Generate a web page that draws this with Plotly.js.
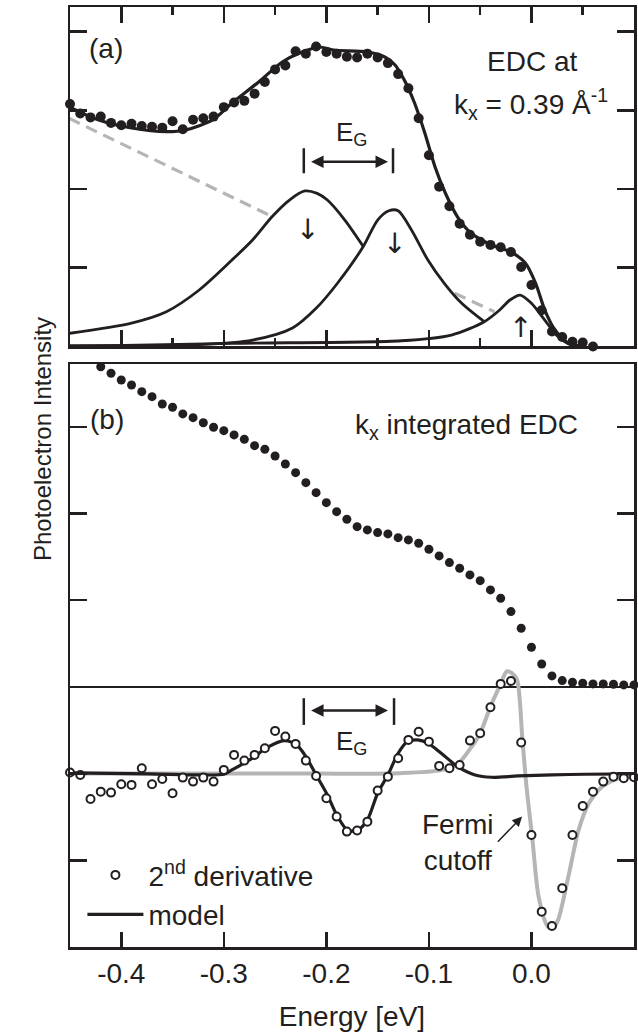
<!DOCTYPE html>
<html>
<head>
<meta charset="utf-8">
<script src="https://cdn.plot.ly/plotly-3.0.1.min.js"></script>
<style>
html,body{margin:0;padding:0;background:#fff;}
#chart{width:638px;height:1034px;}
</style>
</head>
<body>
<div id="chart"></div>
<script>
// ---------- Panel (a): EDC at kx = 0.39 1/Å ----------
const energyA = [-0.45,-0.44,-0.43,-0.42,-0.41,-0.40,-0.39,-0.38,-0.37,-0.36,-0.35,-0.34,-0.33,-0.32,-0.31,-0.30,-0.29,-0.28,-0.27,-0.26,-0.25,-0.24,-0.23,-0.22,-0.21,-0.20,-0.19,-0.18,-0.17,-0.16,-0.15,-0.14,-0.13,-0.12,-0.11,-0.10,-0.09,-0.08,-0.07,-0.06,-0.05,-0.04,-0.03,-0.02,-0.01,0.00,0.01,0.02,0.03,0.04,0.05,0.06];
const edcA = [3.08,2.96,2.91,2.92,2.84,2.81,2.83,2.80,2.79,2.78,2.86,2.76,2.88,2.90,2.92,3.04,3.10,3.12,3.21,3.36,3.52,3.57,3.75,3.72,3.81,3.74,3.72,3.68,3.67,3.72,3.67,3.60,3.46,3.28,2.90,2.43,2.03,1.78,1.56,1.42,1.33,1.29,1.26,1.20,1.01,0.78,0.46,0.19,0.12,0.06,0.05,0.00];

const fitAx = [-0.451,-0.422,-0.390,-0.356,-0.337,-0.311,-0.292,-0.266,-0.243,-0.226,-0.207,-0.193,-0.160,-0.143,-0.133,-0.124,-0.114,-0.104,-0.094,-0.084,-0.072,-0.059,-0.039,-0.020,-0.006,0.004,0.013,0.023,0.036,0.052];
const fitAy = [3.046,2.877,2.775,2.728,2.750,2.877,3.093,3.360,3.614,3.728,3.804,3.766,3.741,3.678,3.576,3.385,3.093,2.712,2.280,1.949,1.644,1.441,1.289,1.200,1.060,0.805,0.462,0.208,0.043,0.0];

const bgAx = [-0.451,-0.256,null,-0.075,-0.036];
const bgAy = [2.898,1.670,null,0.675,0.441];

const peak1x = [-0.451,-0.390,-0.356,-0.324,-0.292,-0.272,-0.253,-0.236,-0.221,-0.209,-0.199,-0.182,-0.164];
const peak1y = [0.166,0.297,0.441,0.717,1.098,1.352,1.648,1.860,1.975,1.945,1.860,1.606,1.270];

const peak2x = [-0.451,-0.324,-0.272,-0.233,-0.210,-0.189,-0.164,-0.150,-0.139,-0.130,-0.117,-0.101,-0.085,-0.068,-0.046];
const peak2y = [0.011,0.024,0.081,0.234,0.484,0.806,1.270,1.606,1.724,1.724,1.479,1.098,0.802,0.548,0.314];

const peak3x = [-0.451,-0.292,-0.127,-0.078,-0.046,-0.031,-0.021,-0.011,0.000,0.013,0.026,0.039,0.052];
const peak3y = [0.0,0.040,0.072,0.145,0.314,0.463,0.590,0.653,0.548,0.335,0.123,0.018,0.0];

// ---------- Panel (b): kx integrated EDC and 2nd derivative ----------
const energyB = [-0.42,-0.41,-0.40,-0.39,-0.38,-0.37,-0.36,-0.35,-0.34,-0.33,-0.32,-0.31,-0.30,-0.29,-0.28,-0.27,-0.26,-0.25,-0.24,-0.23,-0.22,-0.21,-0.20,-0.19,-0.18,-0.17,-0.16,-0.15,-0.14,-0.13,-0.12,-0.11,-0.10,-0.09,-0.08,-0.07,-0.06,-0.05,-0.04,-0.03,-0.02,-0.01,0.00,0.01,0.02,0.03,0.04,0.05,0.06,0.07,0.08,0.09,0.10];
const edcB = [3.694,3.618,3.541,3.483,3.406,3.348,3.264,3.226,3.149,3.106,3.048,2.995,2.956,2.907,2.857,2.783,2.742,2.664,2.572,2.472,2.356,2.241,2.126,2.022,1.934,1.849,1.811,1.780,1.765,1.722,1.696,1.657,1.588,1.511,1.434,1.369,1.292,1.226,1.119,1.023,0.869,0.677,0.458,0.265,0.127,0.073,0.054,0.043,0.035,0.035,0.031,0.023,0.023];

const energyD = [-0.45,-0.44,-0.43,-0.42,-0.41,-0.40,-0.39,-0.38,-0.37,-0.36,-0.35,-0.34,-0.33,-0.32,-0.31,-0.30,-0.29,-0.28,-0.27,-0.26,-0.25,-0.24,-0.23,-0.22,-0.21,-0.20,-0.19,-0.18,-0.17,-0.16,-0.15,-0.14,-0.13,-0.12,-0.11,-0.10,-0.09,-0.08,-0.07,-0.06,-0.05,-0.04,-0.03,-0.02,-0.01,0.00,0.01,0.02,0.03,0.04,0.05,0.06,0.07,0.08,0.09,0.10];
const deriv2 = [-0.988,-1.015,-1.292,-1.208,-1.219,-1.122,-1.130,-0.938,-1.122,-1.061,-1.226,-1.046,-1.092,-1.046,-1.092,-0.957,-0.784,-0.850,-0.784,-0.707,-0.507,-0.573,-0.657,-0.850,-1.027,-1.284,-1.496,-1.669,-1.657,-1.554,-1.196,-1.035,-0.822,-0.611,-0.516,-0.631,-0.911,-0.938,-0.900,-0.619,-0.534,-0.234,0.035,0.069,-0.642,-1.707,-2.592,-2.757,-2.322,-1.707,-1.373,-1.208,-1.092,-1.035,-1.053,-1.042];

const modelx = [-0.450,-0.373,-0.324,-0.300,-0.292,-0.272,-0.259,-0.241,-0.229,-0.220,-0.210,-0.199,-0.189,-0.179,-0.169,-0.160,-0.150,-0.140,-0.130,-0.121,-0.111,-0.101,-0.088,-0.072,-0.055,-0.039,-0.013,0.020,0.052,0.100];
const modely = [-0.992,-1.003,-1.015,-1.007,-0.957,-0.822,-0.707,-0.619,-0.669,-0.804,-1.015,-1.246,-1.496,-1.657,-1.649,-1.534,-1.226,-1.015,-0.765,-0.631,-0.611,-0.649,-0.765,-0.919,-1.015,-1.042,-1.027,-1.015,-1.007,-1.003];

const fermix = [-0.450,-0.300,-0.209,-0.128,-0.088,-0.072,-0.059,-0.050,-0.040,-0.031,-0.024,-0.019,-0.014,-0.009,-0.005,0.001,0.007,0.016,0.021,0.026,0.036,0.046,0.056,0.069,0.085,0.100];
const fermiy = [-0.998,-0.998,-1.000,-0.995,-0.960,-0.890,-0.700,-0.534,-0.227,0.010,0.180,0.160,0.081,-0.577,-1.130,-1.765,-2.419,-2.765,-2.783,-2.687,-2.188,-1.649,-1.341,-1.150,-1.053,-1.034];

const xTickVals = [-0.4,-0.3,-0.2,-0.1,0.0];
const xTickText = ['-0.4','-0.3','-0.2','-0.1','0.0'];

const INK = '#231f20';
const GRAY = '#b5b5b5';
const FONT = 'Liberation Sans, Arial, Helvetica, sans-serif';
const ARROWFONT = 'DejaVu Sans, Liberation Sans, sans-serif';

const traces = [
  {x: bgAx, y: bgAy, xaxis:'x2', yaxis:'y2', mode:'lines', line:{color:GRAY, width:3.2, dash:'12px,7px'}, showlegend:false, hoverinfo:'skip', connectgaps:false},
  {x: peak1x, y: peak1y, xaxis:'x2', yaxis:'y2', mode:'lines', line:{color:INK, width:2.8, shape:'spline', smoothing:0.8}, showlegend:false},
  {x: peak2x, y: peak2y, xaxis:'x2', yaxis:'y2', mode:'lines', line:{color:INK, width:2.8, shape:'spline', smoothing:0.8}, showlegend:false},
  {x: peak3x, y: peak3y, xaxis:'x2', yaxis:'y2', mode:'lines', line:{color:INK, width:2.8, shape:'spline', smoothing:0.8}, showlegend:false},
  {x: fitAx, y: fitAy, xaxis:'x2', yaxis:'y2', mode:'lines', line:{color:INK, width:3.2, shape:'spline', smoothing:0.8}, showlegend:false},
  {x: energyA, y: edcA, xaxis:'x2', yaxis:'y2', mode:'markers', marker:{color:INK, size:10}, cliponaxis:false, showlegend:false},

  {x: fermix, y: fermiy, xaxis:'x', yaxis:'y', mode:'lines', line:{color:GRAY, width:4, shape:'spline', smoothing:0.8}, showlegend:false},
  {x: modelx, y: modely, xaxis:'x', yaxis:'y', mode:'lines', name:'model', legendrank:2, line:{color:INK, width:3.2, shape:'spline', smoothing:0.8}},
  {x: energyD, y: deriv2, xaxis:'x', yaxis:'y', mode:'markers', name:'2<sup>nd</sup> derivative', legendrank:1, cliponaxis:false,
   marker:{color:'#ffffff', size:8, line:{color:INK, width:2}}},
  {x: energyB, y: edcB, xaxis:'x', yaxis:'y', mode:'markers', marker:{color:INK, size:9}, cliponaxis:false, showlegend:false}
];

const axisCommon = {
  showgrid:false, zeroline:false, showline:true, linecolor:INK, linewidth:2.5,
  ticks:'inside', tickcolor:INK, tickwidth:2.5
};

const layout = {
  width:638, height:1034,
  margin:{l:70, r:4, t:7, b:87},
  paper_bgcolor:'#fff', plot_bgcolor:'#fff',
  font:{family:FONT, color:INK, size:28},
  showlegend:true,
  legend:{x:0.022, y:0.103, xanchor:'left', yanchor:'top', bgcolor:'rgba(0,0,0,0)', font:{size:28, color:INK}, itemwidth:56, tracegroupgap:0},
  xaxis: Object.assign({}, axisCommon, {
    anchor:'y', range:[-0.45, 0.1], mirror:true, tickmode:'array', tickvals:xTickVals, ticktext:xTickText,
    ticklen:15, tickfont:{size:28, color:INK},
    title:{text:'Energy [eV]', font:{size:28, color:INK}, standoff:19}
  }),
  xaxis3: {
    overlaying:'x', anchor:'y', side:'top', range:[-0.45, 0.1], showline:false, showgrid:false, zeroline:false,
    tickmode:'array', tickvals:xTickVals, showticklabels:false, ticks:'inside', ticklen:16, tickwidth:2.5, tickcolor:INK,
    minor:{tickmode:'linear', tick0:0, dtick:0.05, ticks:'inside', ticklen:8, tickwidth:2.5, tickcolor:INK}
  },
  xaxis2: Object.assign({}, axisCommon, {
    anchor:'y2', range:[-0.45, 0.1], mirror:'allticks', tickmode:'array', tickvals:xTickVals, showticklabels:false,
    ticklen:16,
    minor:{tickmode:'linear', tick0:0, dtick:0.05, ticks:'inside', ticklen:8, tickwidth:2.5, tickcolor:INK}
  }),
  yaxis: Object.assign({}, axisCommon, {
    anchor:'x', domain:[0, 0.6202], range:[-3, 3.725], mirror:'allticks', tickmode:'linear', tick0:0, dtick:1,
    ticklen:17, showticklabels:false, zeroline:true, zerolinecolor:INK, zerolinewidth:2
  }),
  yaxis2: Object.assign({}, axisCommon, {
    anchor:'x2', domain:[0.6389, 1], range:[0, 4.3126], mirror:'allticks', tickmode:'linear', tick0:0, dtick:1,
    ticklen:17, showticklabels:false
  }),
  shapes: [
    {type:'line', xref:'x2', yref:'y2', x0:-0.222, x1:-0.222, y0:2.20, y1:2.517, line:{color:INK, width:2.5}},
    {type:'line', xref:'x2', yref:'y2', x0:-0.135, x1:-0.135, y0:2.20, y1:2.517, line:{color:INK, width:2.5}},
    {type:'line', xref:'x', yref:'y', x0:-0.222, x1:-0.222, y0:-0.130, y1:-0.438, line:{color:INK, width:2.5}},
    {type:'line', xref:'x', yref:'y', x0:-0.134, x1:-0.134, y0:-0.130, y1:-0.438, line:{color:INK, width:2.5}}
  ],
  annotations: [
    {xref:'paper', yref:'paper', x:-0.0771, y:0.5404, text:'Photoelectron Intensity', textangle:-90, showarrow:false, font:{size:24, color:INK}},
    {xref:'x2', yref:'y2', x:-0.4153, y:3.79, text:'(a)', showarrow:false, font:{size:28, color:INK}},
    {xref:'x2', yref:'y2', x:0.0005, y:3.62, text:'EDC at', showarrow:false, font:{size:28, color:INK}},
    {xref:'x2', yref:'y2', x:-0.0008, y:3.08, text:'k<sub>x</sub> = 0.39 Å<sup>-1</sup>', showarrow:false, font:{size:28, color:INK}},
    {xref:'x2', yref:'y2', x:-0.1749, y:2.70, text:'E<sub>G</sub>', showarrow:false, font:{size:26, color:INK}},
    {xref:'x2', yref:'y2', x:-0.1399, y:2.347, ax:-0.2164, ay:2.347, axref:'x2', ayref:'y2', text:'', showarrow:true, arrowside:'end+start', arrowhead:2, arrowsize:1, arrowwidth:2.5, arrowcolor:INK, standoff:0, startstandoff:0},
    {xref:'x2', yref:'y2', x:-0.218, y:1.49, text:'↓', showarrow:false, font:{family:ARROWFONT, size:28, color:INK}},
    {xref:'x2', yref:'y2', x:-0.134, y:1.31, text:'↓', showarrow:false, font:{family:ARROWFONT, size:28, color:INK}},
    {xref:'x2', yref:'y2', x:-0.011, y:0.24, text:'↑', showarrow:false, font:{family:ARROWFONT, size:28, color:INK}},

    {xref:'x', yref:'y', x:-0.4137, y:3.08, text:'(b)', showarrow:false, font:{size:28, color:INK}},
    {xref:'x', yref:'y', x:-0.0636, y:3.0, text:'k<sub>x</sub> integrated EDC', showarrow:false, font:{size:28, color:INK}},
    {xref:'x', yref:'y', x:-0.1749, y:-0.64, text:'E<sub>G</sub>', showarrow:false, font:{size:26, color:INK}},
    {xref:'x', yref:'y', x:-0.1399, y:-0.273, ax:-0.2164, ay:-0.273, axref:'x', ayref:'y', text:'', showarrow:true, arrowside:'end+start', arrowhead:2, arrowsize:1, arrowwidth:2.5, arrowcolor:INK, standoff:0, startstandoff:0},
    {xref:'x', yref:'y', x:-0.0717, y:-1.80, text:'Fermi<br>cutoff', showarrow:false, font:{size:28, color:INK}},
    {xref:'x', yref:'y', x:-0.0091, y:-1.496, ax:-0.0342, ay:-1.803, axref:'x', ayref:'y', text:'', showarrow:true, arrowhead:2, arrowsize:1.3, arrowwidth:1.5, arrowcolor:INK, standoff:0}
  ]
};

Plotly.newPlot('chart', traces, layout, {displayModeBar:false, staticPlot:true});
</script>
</body>
</html>
